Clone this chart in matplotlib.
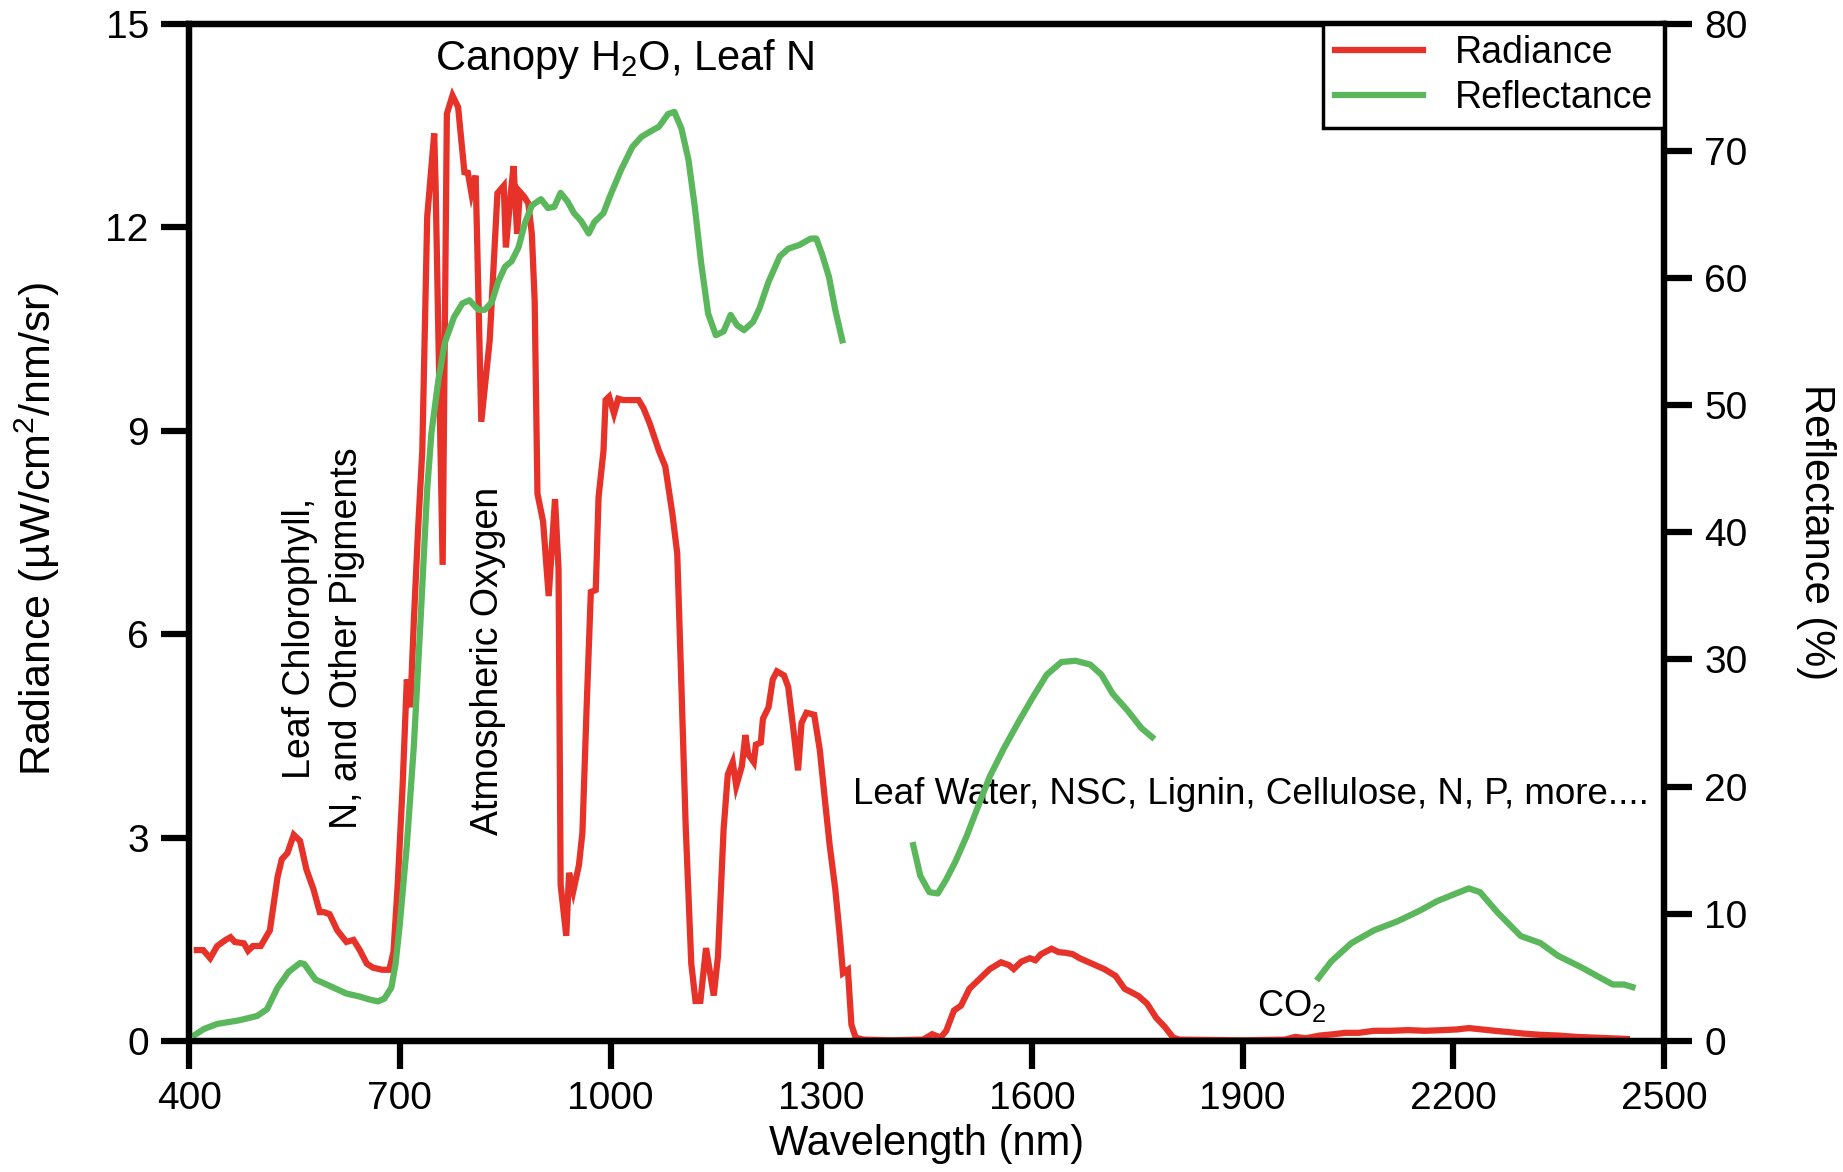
import matplotlib
matplotlib.use("Agg")
import matplotlib.pyplot as plt
import numpy as np

plt.rcParams['font.family'] = ['Liberation Sans', 'DejaVu Sans']
plt.rcParams['mathtext.fontset'] = 'custom'
plt.rcParams['mathtext.rm'] = 'Liberation Sans'
plt.rcParams['mathtext.it'] = 'Liberation Sans:italic'

# ---------------- data ----------------
rad_wl = [411, 420, 430, 440, 452, 459, 465, 478, 484, 491, 502, 515, 526, 532, 540, 549, 558, 567,
          577, 586, 592, 600, 611, 624, 634, 643, 653, 662, 675, 685, 691, 697, 704, 710, 715, 720,
          726, 732, 739, 749, 751, 761, 767, 775, 783, 792, 797, 802, 808, 816, 828, 839, 848, 851,
          858, 862, 867, 871, 877, 883, 888, 892, 896, 904, 912, 921, 926, 929, 937, 941, 947, 955,
          960, 966, 972, 979, 983, 990, 993, 998, 1005, 1011, 1018, 1030, 1040, 1047, 1056, 1069,
          1078, 1088, 1095, 1101, 1107, 1115, 1121, 1128, 1136, 1147, 1153, 1161, 1167, 1174, 1179,
          1187, 1192, 1196, 1204, 1207, 1214, 1217, 1225, 1231, 1237, 1247, 1253, 1260, 1267, 1272,
          1279, 1290, 1298, 1305, 1312, 1320, 1326, 1331, 1338, 1343, 1349, 1360, 1400, 1445, 1458,
          1470, 1478, 1489, 1499, 1511, 1527, 1540, 1556, 1567, 1574, 1585, 1597, 1605, 1613, 1628,
          1638, 1648, 1658, 1668, 1679, 1690, 1703, 1719, 1732, 1745, 1752, 1764, 1777, 1789, 1801,
          1810, 1900, 1960, 1975, 1990, 2010, 2030, 2046, 2065, 2087, 2110, 2136, 2160, 2185, 2205,
          2222, 2240, 2259, 2280, 2299, 2325, 2349, 2375, 2398, 2420, 2447]
radiance = [1.34, 1.34, 1.22, 1.40, 1.49, 1.53, 1.46, 1.44, 1.33, 1.40, 1.40, 1.63, 2.42, 2.68, 2.77,
            3.04, 2.95, 2.53, 2.24, 1.90, 1.90, 1.87, 1.63, 1.46, 1.49, 1.34, 1.14, 1.08, 1.05, 1.05,
            1.31, 2.30, 3.76, 5.33, 4.92, 6.20, 7.54, 8.70, 12.15, 13.38, 12.6, 7.02, 13.67, 13.94,
            13.77, 12.81, 12.80, 12.50, 12.76, 9.13, 10.33, 12.50, 12.61, 11.70, 12.50, 12.90, 11.90,
            12.52, 12.45, 12.35, 11.90, 10.92, 8.07, 7.66, 6.56, 7.99, 6.96, 2.30, 1.55, 2.48, 2.21,
            2.59, 3.07, 4.92, 6.62, 6.65, 8.02, 8.70, 9.45, 9.50, 9.25, 9.47, 9.45, 9.45, 9.45, 9.33,
            9.10, 8.70, 8.47, 7.78, 7.19, 5.22, 3.18, 1.14, 0.59, 0.59, 1.37, 0.67, 1.25, 3.12, 3.93,
            4.11, 3.76, 4.05, 4.51, 4.23, 4.11, 4.37, 4.40, 4.75, 4.92, 5.33, 5.45, 5.39, 5.22, 4.63,
            3.99, 4.69, 4.84, 4.81, 4.29, 3.58, 2.89, 2.24, 1.60, 1.00, 1.05, 0.24, 0.05, 0.02, 0.01,
            0.02, 0.10, 0.05, 0.15, 0.45, 0.52, 0.77, 0.93, 1.06, 1.16, 1.12, 1.06, 1.17, 1.22, 1.19,
            1.28, 1.36, 1.31, 1.30, 1.28, 1.22, 1.17, 1.12, 1.06, 0.96, 0.77, 0.70, 0.66, 0.55, 0.34,
            0.21, 0.05, 0.02, 0.01, 0.02, 0.06, 0.04, 0.08, 0.10, 0.12, 0.12, 0.15, 0.15, 0.16, 0.15,
            0.16, 0.17, 0.19, 0.17, 0.15, 0.13, 0.11, 0.09, 0.08, 0.06, 0.05, 0.04, 0.03]

refl_wl_vnir = [408, 421, 440, 471, 497, 511, 526, 542, 558, 564, 580, 599, 624, 643, 656, 669, 678,
                688, 694, 700, 710, 720, 729, 739, 745, 755, 764, 777, 789, 799, 812, 821, 831, 840,
                850, 859, 869, 878, 888, 901, 911, 920, 929, 939, 948, 958, 969, 977, 990, 999, 1015,
                1031, 1044, 1056, 1069, 1082, 1091, 1101, 1111, 1120, 1129, 1139, 1150, 1161, 1171,
                1180, 1190, 1203, 1212, 1225, 1241, 1253, 1269, 1285, 1293, 1301, 1311, 1320, 1330]
refl_vnir = [0.47, 0.94, 1.34, 1.62, 1.97, 2.5, 4.2, 5.45, 6.13, 6.05, 4.83, 4.36, 3.73, 3.49, 3.27,
             3.11, 3.33, 4.2, 6.07, 9.2, 15.4, 23.2, 32.5, 43.4, 47.8, 52.0, 54.9, 56.9, 58.0, 58.25,
             57.5, 57.5, 58.1, 59.7, 60.9, 61.3, 62.4, 64.3, 65.7, 66.2, 65.5, 65.6, 66.7, 66.0,
             65.1, 64.5, 63.5, 64.4, 65.1, 66.4, 68.5, 70.3, 71.1, 71.5, 71.9, 72.9, 73.06, 71.75,
             69.3, 65.6, 61.2, 57.2, 55.5, 55.8, 57.1, 56.3, 55.9, 56.55, 57.6, 59.7, 61.7, 62.3,
             62.6, 63.1, 63.1, 61.9, 60.1, 57.5, 55.1]

refl_wl_swir1 = [1431, 1441, 1454, 1466, 1478, 1491, 1507, 1523, 1540, 1560, 1580, 1601, 1621, 1642,
                 1662, 1683, 1699, 1715, 1736, 1756, 1771]
refl_swir1 = [15.4, 13.0, 11.7, 11.6, 12.7, 14.1, 16.1, 18.4, 20.8, 23.0, 25.0, 27.0, 28.8, 29.8,
              29.9, 29.6, 28.8, 27.3, 26.0, 24.6, 23.9]

refl_wl_swir2 = [2008, 2026, 2055, 2087, 2120, 2153, 2177, 2202, 2222, 2238, 2263, 2296, 2324, 2349,
                 2382, 2410, 2427, 2443, 2455]
refl_swir2 = [4.95, 6.25, 7.7, 8.7, 9.4, 10.27, 11.0, 11.56, 12.0, 11.7, 10.1, 8.25, 7.7, 6.7, 5.8,
              4.95, 4.44, 4.44, 4.24]

x_ticks = [400, 700, 1000, 1300, 1600, 1900, 2200, 2500]
rad_ticks = [0, 3, 6, 9, 12, 15]
refl_ticks = [0, 10, 20, 30, 40, 50, 60, 70, 80]

RED = '#E63228'
GREEN = '#5BB75B'
LW = 4.5
SPINE_LW = 4.5
TICK_FS = 28

# ---------------- figure ----------------
fig = plt.figure(figsize=(18.43, 11.72), dpi=100)
ax = fig.add_axes([0.1026, 0.1118, 0.8003, 0.868])
ax2 = ax.twinx()

l1, = ax.plot(rad_wl, radiance, color=RED, lw=LW, solid_joinstyle='miter', label='Radiance')
l2, = ax2.plot(refl_wl_vnir, refl_vnir, color=GREEN, lw=LW, label='Reflectance')
ax2.plot(refl_wl_swir1, refl_swir1, color=GREEN, lw=LW)
ax2.plot(refl_wl_swir2, refl_swir2, color=GREEN, lw=LW)

ax.set_xlim(400, 2500)
ax.set_ylim(0, 15)
ax2.set_ylim(0, 80)
ax.set_xticks(x_ticks)
ax.set_yticks(rad_ticks)
ax2.set_yticks(refl_ticks)

for a in (ax, ax2):
    for s in a.spines.values():
        s.set_linewidth(SPINE_LW)
        s.set_color('black')
    a.tick_params(direction='out', length=20, width=SPINE_LW, labelsize=TICK_FS, pad=9)

ax.set_xlabel('Wavelength (nm)', fontsize=30)
ax.xaxis.set_label_coords(0.4997, -0.101)
ax.xaxis.label.set_va('center')

ax.set_ylabel('Radiance (µW/cm$^{\\mathregular{2}}$/nm/sr)', fontsize=31,
              va='center', ha='center')
ax.yaxis.set_label_coords(-0.1026, 0.503)

ax2.set_ylabel('Reflectance (%)', fontsize=30, rotation=270, va='center', ha='center')
ax2.yaxis.set_label_coords(1.103, 0.5)

# annotations
ax.text(750, 14.48, 'Canopy H$_{\\mathregular{2}}$O, Leaf N', fontsize=30, ha='left', va='center')
ax.text(591, 5.94, 'Leaf Chlorophyll,\nN, and Other Pigments', fontsize=27, rotation=90,
        ha='center', va='center', multialignment='center', linespacing=1.4)
ax.text(826, 5.61, 'Atmospheric Oxygen', fontsize=27, rotation=90, ha='center', va='center')
ax.text(1345, 3.64, 'Leaf Water, NSC, Lignin, Cellulose, N, P, more....', fontsize=26.5,
        ha='left', va='center')
ax.text(1921, 0.52, 'CO$_{\\mathregular{2}}$', fontsize=26, ha='left', va='center')

leg = ax2.legend(handles=[l1, l2], loc='upper right', bbox_to_anchor=(1, 1), borderaxespad=0,
                 fontsize=27, fancybox=False, framealpha=1, edgecolor='black',
                 handlelength=2.35, handletextpad=0.85, borderpad=0.3, labelspacing=0.25)
leg.get_frame().set_linewidth(2.5)

fig.savefig('out.png', dpi=100)
